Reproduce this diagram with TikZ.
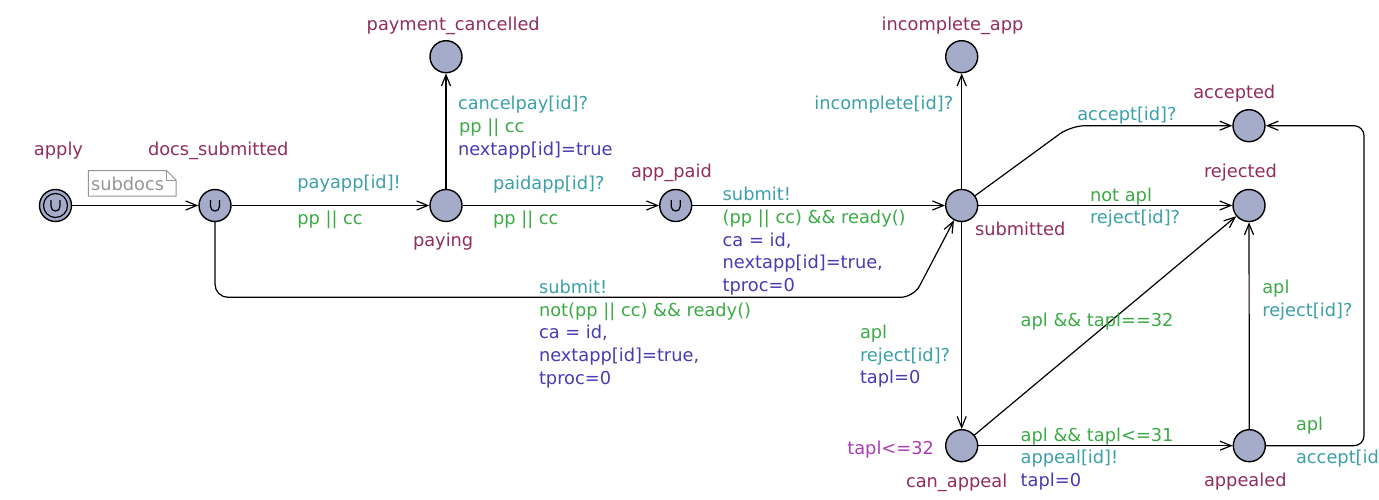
\documentclass[tikz,border=0pt]{standalone}
\usepackage{fontspec}
\setmainfont{DejaVu Sans}
\usetikzlibrary{arrows.meta}

\definecolor{locfill}{RGB}{165,172,202}
\definecolor{namecol}{RGB}{145,45,95}
\definecolor{synccol}{RGB}{60,160,170}
\definecolor{guardcol}{RGB}{60,170,70}
\definecolor{assigncol}{RGB}{70,60,180}
\definecolor{invcol}{RGB}{170,60,180}
\definecolor{notecol}{RGB}{150,150,150}

\tikzset{
  loc/.style={circle, draw=black, line width=1.4pt, fill=locfill,
    minimum size=32pt, inner sep=0pt},
  txt/.style={anchor=base west, inner sep=0pt, outer sep=0pt,
    font=\fontsize{17.8}{22.7}\selectfont},
  lname/.style={txt, text=namecol},
  sync/.style={txt, text=synccol},
  guard/.style={txt, text=guardcol},
  assign/.style={txt, text=assigncol},
  inv/.style={txt, text=invcol},
  note/.style={txt, text=notecol},
  edge/.style={draw=black, line width=1.2pt,
    -{Straight Barb[length=11pt, width=9pt, line width=1.2pt]}},
  urgent/.pic={
    \draw[line width=1.2pt] (-4.5,-5.5) -- (-4.5,1)
      .. controls (-4.5,7) and (4.5,7) .. (4.5,1) -- (4.5,-5.5);
  }
}

\begin{document}
\begin{tikzpicture}[x=1pt, y=-1pt]
\useasboundingbox (0,0) rectangle (1379,500);
\fill[white] (0,0) rectangle (1379,500);
\clip (0,0) rectangle (1379,500);

% locations
\node[loc] (apply)      at (55.5,205.5) {};
\draw[line width=1.2pt] (apply.center) circle[radius=12];
\node[loc] (docs)       at (215,205.5) {};
\node[loc] (paying)     at (446,205.5) {};
\node[loc] (pcancel)    at (446,56.7) {};
\node[loc] (apppaid)    at (675.7,205.5) {};
\node[loc] (submitted)  at (961.7,205.5) {};
\node[loc] (incomplete) at (961.7,56.7) {};
\node[loc] (accepted)   at (1249,125.7) {};
\node[loc] (rejected)   at (1249,205.5) {};
\node[loc] (canappeal)  at (961.7,445.7) {};
\node[loc] (appealed)   at (1249.3,445.7) {};

% urgent markers
\pic at (apply.center) {urgent};
\pic at (docs.center) {urgent};
\pic at (apppaid.center) {urgent};

% location names
\node[lname] (n-apply)  at (34,155.7)    {apply};
\node[lname] (n-docs)   at (148,155.7)   {docs\_submitted};
\node[lname] (n-pc)     at (366.7,30.7)  {payment\_cancelled};
\node[lname] (n-inc)    at (881.7,30.7)  {incomplete\_app};
\node[lname] (n-paying) at (413,246.7)   {paying};
\node[lname] (n-paid)   at (631,178)     {app\_paid};
\node[lname] (n-sub)    at (975,235.7)   {submitted};
\node[lname] (n-acc)    at (1193.3,98.3) {accepted};
\node[lname] (n-rej)    at (1204,177.7)  {rejected};
\node[lname] (n-can)    at (906,487)     {can\_appeal};
\node[lname] (n-app)    at (1204,486)    {appealed};
\node[inv]   (i-can)    at (847.3,454)   {tapl<=32};

% comment
\draw[notecol, line width=1pt] (88.3,170.7) -- (166.7,170.7) -- (176,180)
  -- (176,196) -- (88.3,196) -- cycle;
\draw[notecol, line width=1pt] (166.7,170.7) -- (166.7,180) -- (176,180);
\node[note] (subdocs) at (91,190) {subdocs};

% transitions
\coordinate (c1) at (913.6,297.3);
\coordinate (c2) at (1071,125.7);
\coordinate (c3) at (1364,445.7);
\coordinate (c4) at (1364,125.7);

\draw[edge] (apply) -- (docs);
\draw[edge] (docs) -- (paying);
\draw[edge] (paying) -- (pcancel);
\draw[edge] (paying) -- (apppaid);
\draw[edge] (apppaid) -- (submitted);
\draw[edge, rounded corners=13pt] (docs) |- (c1) -- (submitted);
\draw[edge] (submitted) -- (incomplete);
\draw[edge, rounded corners=14pt] (submitted) -- (c2) -- (accepted);
\draw[edge] (submitted) -- (rejected);
\draw[edge] (submitted) -- (canappeal);
\draw[edge] (canappeal) -- (rejected);
\draw[edge] (canappeal) -- (appealed);
\draw[edge] (appealed) -- (rejected);
\draw[edge, rounded corners=10pt] (appealed) -- (c3) -- (c4) -- (accepted);

% docs_submitted -> paying
\node[sync]  (e1s) at (297.3,188.3) {payapp[id]!};
\node[guard] (e1g) at (297.3,224)   {pp || cc};
% paying -> payment_cancelled
\node[sync]   (e2s) at (458,110)   {cancelpay[id]?};
\node[guard]  (e2g) at (459,132.7) {pp || cc};
\node[assign] (e2a) at (458,155.4) {nextapp[id]=true};
% paying -> app_paid
\node[sync]  (e3s) at (493,189.3) {paidapp[id]?};
\node[guard] (e3g) at (493,224)   {pp || cc};
% app_paid -> submitted
\node[sync]   (e4s)  at (722.7,200.7) {submit!};
\node[guard]  (e4g)  at (722.7,223.4) {(pp || cc) \&\& ready()};
\node[assign] (e4a1) at (722.7,246.1) {ca = id,};
\node[assign] (e4a2) at (722.7,268.8) {nextapp[id]=true,};
\node[assign] (e4a3) at (722.7,291.5) {tproc=0};
% docs_submitted -> submitted
\node[sync]   (e5s)  at (539,293.3) {submit!};
\node[guard]  (e5g)  at (539,316)   {not(pp || cc) \&\& ready()};
\node[assign] (e5a1) at (539,338.7) {ca = id,};
\node[assign] (e5a2) at (539,361.4) {nextapp[id]=true,};
\node[assign] (e5a3) at (539,384.1) {tproc=0};
% submitted -> incomplete_app
\node[sync] (e6s) at (814.3,109.3) {incomplete[id]?};
% submitted -> accepted
\node[sync] (e7s) at (1077.3,120.7) {accept[id]?};
% submitted -> rejected
\node[guard] (e8g) at (1090,201.5) {not apl};
\node[sync]  (e8s) at (1090,223)   {reject[id]?};
% submitted -> can_appeal
\node[guard]  (e9g) at (860,338.3) {apl};
\node[sync]   (e9s) at (860,361)   {reject[id]?};
\node[assign] (e9a) at (860,383.7) {tapl=0};
% can_appeal -> rejected
\node[guard] (e10g) at (1020.7,326.7) {apl \&\& tapl==32};
% can_appeal -> appealed
\node[guard]  (e11g) at (1020.7,441)   {apl \&\& tapl<=31};
\node[sync]   (e11s) at (1020.7,463.7) {appeal[id]!};
\node[assign] (e11a) at (1020.7,486.4) {tapl=0};
% appealed -> rejected
\node[guard] (e12g) at (1262.3,293.3) {apl};
\node[sync]  (e12s) at (1262.3,316)   {reject[id]?};
% appealed -> accepted
\node[guard] (e13g) at (1296,430.7) {apl};
\node[sync]  (e13s) at (1296,463.3) {accept[id]?};
\end{tikzpicture}
\end{document}
